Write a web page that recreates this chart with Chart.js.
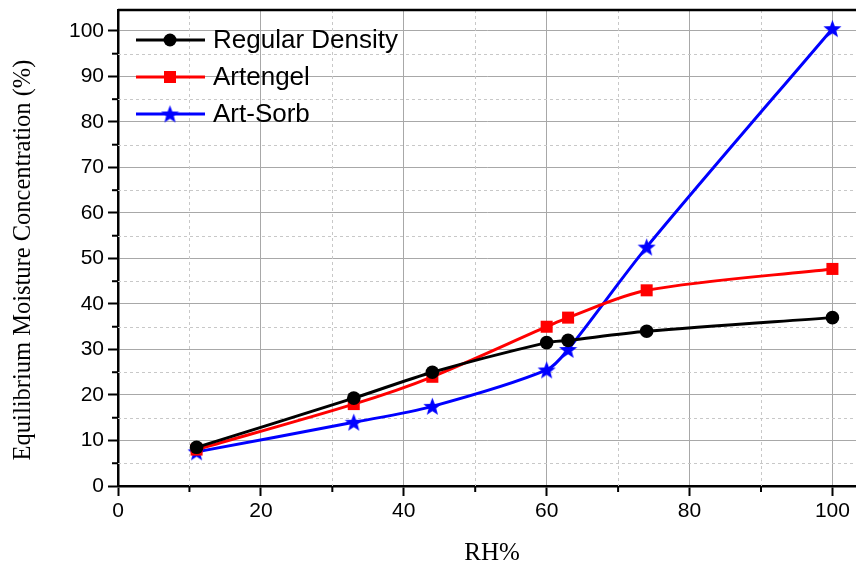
<!DOCTYPE html>
<html><head><meta charset="utf-8">
<script src="https://cdn.jsdelivr.net/npm/chart.js@4"></script>
<style>html,body{margin:0;padding:0;background:#fff}</style>
</head><body>
<canvas id="c" width="856" height="572" style="width:856px;height:572px;display:block"></canvas>
<script>
const rh = [11, 33, 44, 60, 63, 74, 100];
const regularDensity = [8.5, 19.3, 25, 31.5, 32, 34, 37];
const artengel = [8, 18, 24, 35, 37, 43, 47.7];
const artSorb = [7.5, 14, 17.5, 25.5, 30, 52.5, 100.5];
const seriesNames = ['Regular Density', 'Artengel', 'Art-Sorb'];
const xTitle = 'RH%';
const yTitle = 'Equilibrium Moisture Concentration (%)';
const xTicks = [0, 20, 40, 60, 80, 100];
const xMinor = [10, 30, 50, 70, 90];
const yTicks = [0, 10, 20, 30, 40, 50, 60, 70, 80, 90, 100];
const yMinor = [5, 15, 25, 35, 45, 55, 65, 75, 85, 95];

function makeStar(size, color) {
  const cv = document.createElement('canvas');
  cv.width = size; cv.height = size;
  const g = cv.getContext('2d');
  const cx = size / 2, cy = size / 2 + 0.8, R = size / 2, r = R * 0.42;
  g.beginPath();
  for (let i = 0; i < 10; i++) {
    const a = -Math.PI / 2 + i * Math.PI / 5;
    const rr = i % 2 === 0 ? R : r;
    const px = cx + rr * Math.cos(a), py = cy + rr * Math.sin(a);
    if (i === 0) g.moveTo(px, py); else g.lineTo(px, py);
  }
  g.closePath();
  g.fillStyle = color; g.fill();
  return cv;
}
const star = makeStar(19, '#0000ff');

const toPts = ys => rh.map((x, i) => ({ x: x, y: ys[i] }));

const extras = {
  id: 'extras',
  beforeDatasetsDraw(chart) {
    const { ctx, chartArea: a, scales: { x, y } } = chart;
    ctx.save();
    ctx.strokeStyle = '#c8c8c8';
    ctx.lineWidth = 1;
    ctx.setLineDash([3, 3]);
    xMinor.forEach(v => {
      const px = Math.round(x.getPixelForValue(v)) + 0.5;
      ctx.beginPath(); ctx.moveTo(px, a.top); ctx.lineTo(px, a.bottom); ctx.stroke();
    });
    yMinor.forEach(v => {
      const py = Math.round(y.getPixelForValue(v)) + 0.5;
      ctx.beginPath(); ctx.moveTo(a.left, py); ctx.lineTo(a.right, py); ctx.stroke();
    });
    ctx.setLineDash([]);
    ctx.strokeStyle = '#000';
    ctx.lineWidth = 2;
    xMinor.forEach(v => {
      const px = x.getPixelForValue(v);
      ctx.beginPath(); ctx.moveTo(px, a.bottom); ctx.lineTo(px, a.bottom + 6); ctx.stroke();
    });
    yMinor.forEach(v => {
      const py = y.getPixelForValue(v);
      ctx.beginPath(); ctx.moveTo(a.left, py); ctx.lineTo(a.left - 6, py); ctx.stroke();
    });
    ctx.lineWidth = 2.5;
    ctx.beginPath(); ctx.moveTo(a.left, a.top); ctx.lineTo(a.right, a.top); ctx.stroke();
    // axis titles
    ctx.fillStyle = '#000';
    ctx.textAlign = 'center';
    ctx.textBaseline = 'middle';
    ctx.font = '25px "Liberation Serif", "Times New Roman", serif';
    ctx.fillText(xTitle, 492, 553);
    ctx.save();
    ctx.translate(24, 260);
    ctx.rotate(-Math.PI / 2);
    ctx.font = '24.5px "Liberation Serif", "Times New Roman", serif';
    ctx.fillText(yTitle, 0, 0);
    ctx.restore();
    ctx.restore();
  },
  afterDatasetsDraw(chart) {
    const { ctx } = chart;
    ctx.save();
    const x0 = 136, x1 = 205, xm = 170, xt = 213;
    const ys = [40, 77, 114];
    chart.data.datasets.forEach((ds, i) => {
      const yy = ys[i];
      ctx.strokeStyle = ds.borderColor; ctx.lineWidth = 3;
      ctx.beginPath(); ctx.moveTo(x0, yy); ctx.lineTo(x1, yy); ctx.stroke();
      ctx.fillStyle = ds.borderColor;
      if (i === 0) { ctx.beginPath(); ctx.arc(xm, yy, 6.5, 0, Math.PI * 2); ctx.fill(); }
      else if (i === 1) { ctx.fillRect(xm - 6, yy - 6, 12, 12); }
      else { ctx.drawImage(star, xm - star.width / 2, yy - star.height / 2); }
      ctx.fillStyle = '#000';
      ctx.font = '26px "Liberation Sans", Arial, sans-serif';
      ctx.textBaseline = 'middle';
      ctx.fillText(ds.label, xt, yy + 1);
    });
    ctx.restore();
  }
};

new Chart(document.getElementById('c'), {
  type: 'line',
  data: {
    datasets: [
      { label: seriesNames[0], data: toPts(regularDensity), borderColor: '#000000', backgroundColor: '#000000',
        borderWidth: 3, pointStyle: 'circle', pointRadius: 6.8, pointBorderWidth: 0, tension: 0.3 },
      { label: seriesNames[1], data: toPts(artengel), borderColor: '#ff0000', backgroundColor: '#ff0000',
        borderWidth: 3, pointStyle: 'rect', pointRadius: 8.5, pointBorderWidth: 0, tension: 0.3 },
      { label: seriesNames[2], data: toPts(artSorb), borderColor: '#0000ff', backgroundColor: '#0000ff',
        borderWidth: 3, pointStyle: star, pointRadius: 9, pointBorderWidth: 0, tension: 0.3 }
    ]
  },
  options: {
    responsive: false,
    animation: false,
    devicePixelRatio: 1,
    layout: { autoPadding: false, padding: { top: 10, right: 0, left: 0, bottom: 0 } },
    plugins: { legend: { display: false }, tooltip: { enabled: false } },
    scales: {
      x: {
        type: 'linear', min: 0, max: 103.3,
        afterBuildTicks: s => { s.ticks = xTicks.map(v => ({ value: v })); },
        afterFit: s => { s.height = 86; s.paddingLeft = 0; s.paddingRight = 0; },
        ticks: { color: '#000', font: { family: '"Liberation Sans", Arial, sans-serif', size: 21 }, padding: 3, maxRotation: 0 },
        grid: { color: '#a8a8a8', lineWidth: 1, tickColor: '#000', tickLength: 10, tickWidth: 2 },
        border: { color: '#000', width: 2.5 },
        title: { display: false }
      },
      y: {
        type: 'linear', min: 0, max: 104.6,
        afterBuildTicks: s => { s.ticks = yTicks.map(v => ({ value: v })); },
        afterFit: s => { s.width = 118; s.paddingTop = 0; s.paddingBottom = 0; },
        ticks: { color: '#000', font: { family: '"Liberation Sans", Arial, sans-serif', size: 21 }, padding: 4 },
        grid: { color: '#a8a8a8', lineWidth: 1, tickColor: '#000', tickLength: 10, tickWidth: 2 },
        border: { color: '#000', width: 2.5 },
        title: { display: false }
      }
    }
  },
  plugins: [extras]
});
</script>
</body></html>
